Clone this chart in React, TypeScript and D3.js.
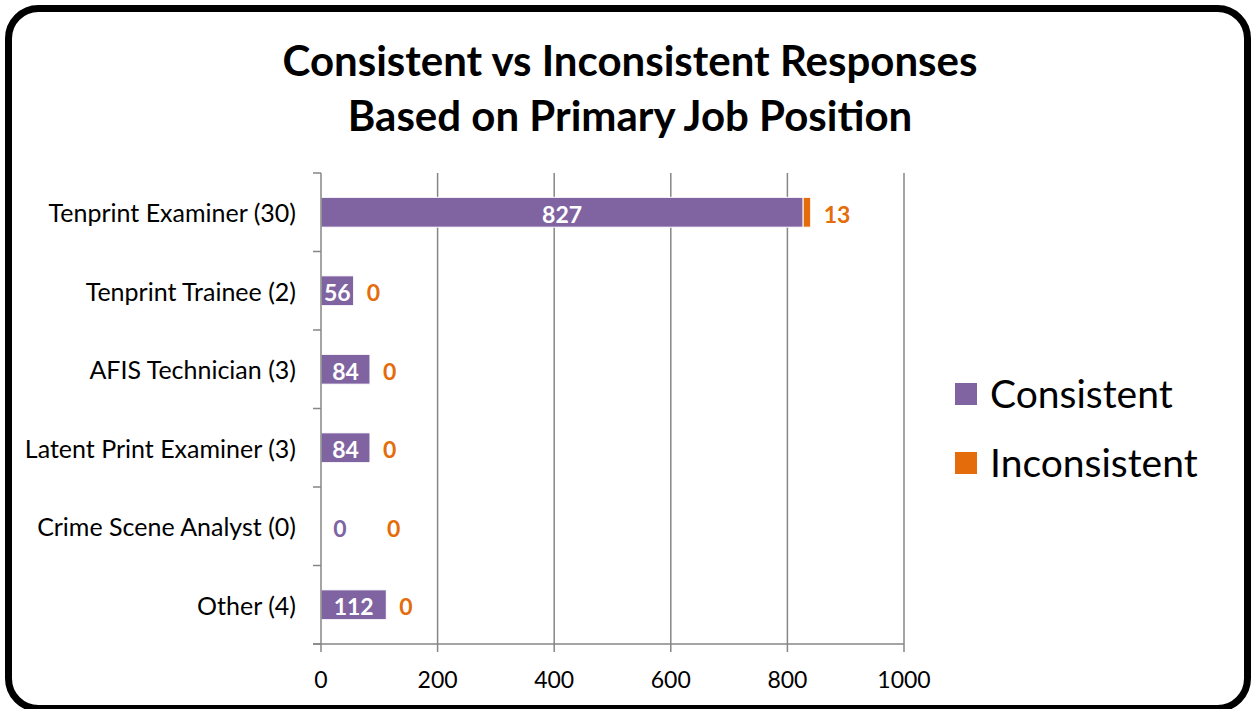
import React from 'react';
import * as d3 from 'd3';

const categories = [
  'Tenprint Examiner (30)',
  'Tenprint Trainee (2)',
  'AFIS Technician (3)',
  'Latent Print Examiner (3)',
  'Crime Scene Analyst (0)',
  'Other (4)',
];
const consistent = [827, 56, 84, 84, 0, 112];
const inconsistent = [13, 0, 0, 0, 0, 0];
const xTicks = [0, 200, 400, 600, 800, 1000];
const seriesNames = ['Consistent', 'Inconsistent'];
const colors = ['#8064A2', '#E46C0A'];
const titleLines = ['Consistent vs Inconsistent Responses', 'Based on Primary Job Position'];

const W = 1253;
const H = 709;
const FONT = 'Lato, "Open Sans", sans-serif';

const App = () => {
  const x = d3.scaleLinear().domain([0, 1000]).range([321, 904]);
  const y = d3.scaleBand<string>().domain(categories).range([173, 644]).paddingInner(0.62).paddingOuter(0.31);
  const step = y.step();
  const bounds = d3.range(categories.length + 1).map((i) => 173 + i * step);
  const grey = '#868686';

  return (
    <svg width={W} height={H} style={{ position: 'absolute', left: 0, top: 0, display: 'block' }}>
      <rect x={0} y={0} width={W} height={H} fill="#fff" />
      <rect x={8.5} y={8.5} width={W - 14} height={H - 9} rx={30} ry={30} fill="#fff" stroke="#000" strokeWidth={7} />

      {/* title */}
      {titleLines.map((t, i) => (
        <text key={t} x={630} y={76 + i * 55} textAnchor="middle" fontFamily={FONT} fontWeight="bold" fontSize={42} fill="#000">
          {t}
        </text>
      ))}

      {/* grid */}
      {xTicks.slice(1).map((t) => (
        <line key={t} x1={x(t)} x2={x(t)} y1={173} y2={644} stroke={grey} strokeWidth={1.5} />
      ))}

      {/* bars */}
      {categories.map((c, i) => {
        const y0 = y(c)!;
        const bh = y.bandwidth();
        const cy = y0 + bh / 2;
        const x0 = x(0);
        const x1 = x(consistent[i]);
        const x2 = x(consistent[i] + inconsistent[i]);
        let ix = x2 + 13;
        if (consistent[i] === 0) ix = x(0) + 66;
        return (
          <g key={c}>
            {consistent[i] > 0 && (
              <rect x={x0} y={y0} width={x1 - x0} height={bh} fill={colors[0]} stroke="#fff" strokeWidth={1} />
            )}
            {inconsistent[i] > 0 && (
              <rect x={x1} y={y0} width={x2 - x1} height={bh} fill={colors[1]} stroke="#fff" strokeWidth={1} />
            )}
            <text
              x={consistent[i] > 0 ? (x0 + x1) / 2 : x0 + 19}
              y={cy + 2}
              dy="0.36em"
              textAnchor="middle"
              fontFamily={FONT}
              fontWeight="bold"
              fontSize={23}
              fill={consistent[i] > 0 ? '#fff' : colors[0]}
            >
              {consistent[i]}
            </text>
            <text x={ix} y={cy + 2} dy="0.36em" textAnchor="start" fontFamily={FONT} fontWeight="bold" fontSize={23} fill={colors[1]}>
              {inconsistent[i]}
            </text>
            <text x={296} y={cy + 1} dy="0.36em" textAnchor="end" fontFamily={FONT} fontSize={25} fill="#000">
              {c}
            </text>
          </g>
        );
      })}

      {/* axes */}
      <line x1={321} x2={321} y1={173} y2={644} stroke={grey} strokeWidth={1.5} />
      <line x1={313} x2={904} y1={644} y2={644} stroke={grey} strokeWidth={1.5} />
      {bounds.map((b) => (
        <line key={b} x1={313} x2={321} y1={b} y2={b} stroke={grey} strokeWidth={1.5} />
      ))}
      {xTicks.map((t) => (
        <g key={t}>
          <line x1={x(t)} x2={x(t)} y1={644} y2={652} stroke={grey} strokeWidth={1.5} />
          <text x={x(t)} y={688} textAnchor="middle" fontFamily={FONT} fontSize={23} fill="#000">
            {t}
          </text>
        </g>
      ))}

      {/* legend */}
      {seriesNames.map((s, i) => (
        <g key={s}>
          <rect x={955} y={383 + i * 69} width={22} height={22} fill={colors[i]} />
          <text x={990} y={394 + i * 69} dy="0.36em" fontFamily={FONT} fontSize={39} fill="#000">
            {s}
          </text>
        </g>
      ))}
    </svg>
  );
};

export default App;
